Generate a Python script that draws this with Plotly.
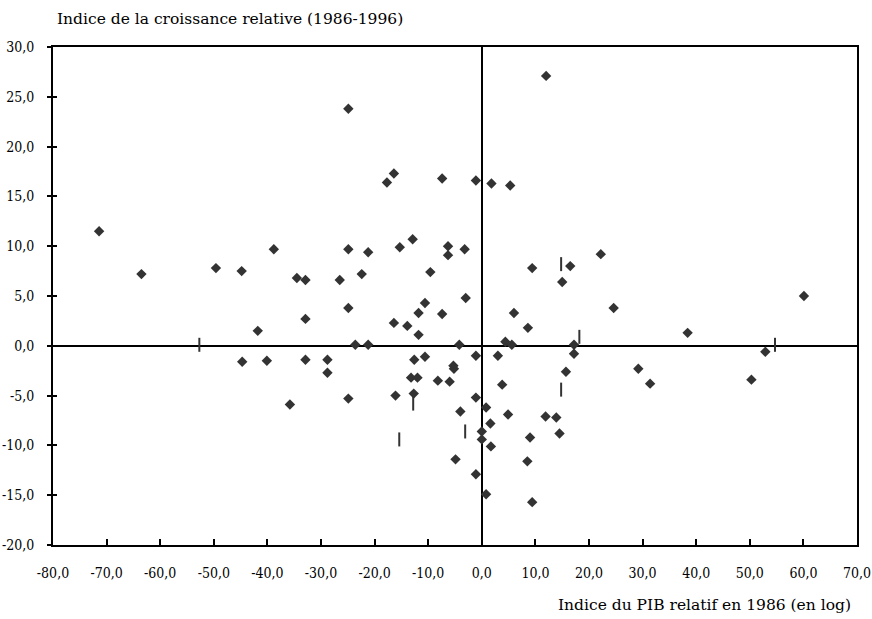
import plotly.graph_objects as go

# Diamond-marked observations (x = Indice du PIB relatif 1986, y = croissance relative)
diam_x = [-71.4, -63.5, -49.6, -44.8, -38.8, -34.5, -32.9, -41.8, -32.9, -24.9,
          -24.9, -26.5, -22.4, -21.2, -24.9, -23.6, -21.2, -17.7, -16.4, -7.4,
          -15.3, -12.9, -9.6, -6.3, -6.3, -3.2, -3.0, -10.6, -11.8, -7.4,
          -16.4, -13.9, -11.8, -4.2, -1.1, 1.8, 5.3, 12.0, 9.4, 16.5,
          15.0, 22.2, 24.6, 6.0, 8.6, 38.4, 60.1, 17.2, 4.4, 5.6,
          -44.7, -40.1, -32.9, -28.8, -28.8, -35.8, -24.9, -16.1, -12.6, -10.6,
          -13.2, -12.0, -12.7, -8.2, -6.0, -5.3, -5.2, -4.0, -4.9, 52.9,
          -1.1, 3.0, 17.2, 15.7, 29.2, 31.4, 50.3, 3.8, -1.1, 0.8,
          4.9, 1.6, 11.9, 13.9, 14.5, 0.0, 0.0, 1.7, 9.0, 8.5,
          -1.1, 0.8, 9.4]
diam_y = [11.5, 7.2, 7.8, 7.5, 9.7, 6.8, 6.6, 1.5, 2.7, 23.8,
          9.7, 6.6, 7.2, 9.4, 3.8, 0.1, 0.1, 16.4, 17.3, 16.8,
          9.9, 10.7, 7.4, 10.0, 9.1, 9.7, 4.8, 4.3, 3.3, 3.2,
          2.3, 2.0, 1.1, 0.1, 16.6, 16.3, 16.1, 27.1, 7.8, 8.0,
          6.4, 9.2, 3.8, 3.3, 1.8, 1.3, 5.0, 0.1, 0.4, 0.1,
          -1.6, -1.5, -1.4, -1.4, -2.7, -5.9, -5.3, -5.0, -1.4, -1.1,
          -3.2, -3.2, -4.8, -3.5, -3.6, -2.0, -2.3, -6.6, -11.4, -0.6,
          -1.0, -1.0, -0.8, -2.6, -2.3, -3.8, -3.4, -3.9, -5.2, -6.2,
          -6.9, -7.8, -7.1, -7.2, -8.8, -8.6, -9.4, -10.1, -9.2, -11.6,
          -12.9, -14.9, -15.7]

# Observations drawn with a short vertical bar
bar_x = [-52.7, 14.8, 18.2, 54.7, -15.4, -12.8, -3.1, 14.8]
bar_y = [0.1, 8.2, 0.9, 0.1, -9.4, -5.8, -8.6, -4.4]

x_ticks = [-80, -70, -60, -50, -40, -30, -20, -10, 0, 10, 20, 30, 40, 50, 60, 70]
x_ticklabels = ["-80,0", "-70,0", "-60,0", "-50,0", "-40,0", "-30,0", "-20,0", "-10,0",
                "0,0", "10,0", "20,0", "30,0", "40,0", "50,0", "60,0", "70,0"]
y_ticks = [-20, -15, -10, -5, 0, 5, 10, 15, 20, 25, 30]
y_ticklabels = ["-20,0", "-15,0", "-10,0", "-5,0", "0,0", "5,0", "10,0", "15,0",
                "20,0", "25,0", "30,0"]

y_title = "Indice de la croissance relative (1986-1996)"
x_title = "Indice du PIB relatif en 1986 (en log)"

MARK = "#333333"
tick_font = dict(family="DejaVu Serif Condensed, Liberation Serif, serif", size=14, color="black")
title_font = dict(family="DejaVu Serif, Liberation Serif, serif", size=15.5, color="black")

fig = go.Figure()
fig.add_trace(go.Scatter(x=diam_x, y=diam_y, mode="markers",
                         marker=dict(symbol="diamond", size=8, color=MARK,
                                     line=dict(width=0)),
                         showlegend=False, hoverinfo="x+y"))
fig.add_trace(go.Scatter(x=bar_x, y=bar_y, mode="markers",
                         marker=dict(symbol="line-ns", size=10,
                                     line=dict(width=2, color=MARK)),
                         showlegend=False, hoverinfo="x+y"))
# invisible trace to anchor the overlay axis (inside half of the crossing ticks)
fig.add_trace(go.Scatter(x=[-80], y=[-20], yaxis="y2", mode="markers",
                         marker=dict(size=1, opacity=0), showlegend=False,
                         hoverinfo="skip"))

fig.update_layout(
    width=872, height=619,
    margin=dict(l=53, r=15, t=47, b=74),
    paper_bgcolor="white", plot_bgcolor="white",
    xaxis=dict(range=[-80, 70], tickvals=x_ticks, ticktext=x_ticklabels,
               showgrid=False, zeroline=True, zerolinecolor="black", zerolinewidth=2,
               showline=True, linecolor="black", linewidth=2, mirror=True,
               ticks="inside", ticklen=6, tickwidth=2, tickcolor="black",
               tickfont=tick_font, ticklabelstandoff=14, automargin=False),
    yaxis=dict(range=[-20, 30], tickvals=y_ticks, ticktext=y_ticklabels,
               showgrid=False, zeroline=True, zerolinecolor="black", zerolinewidth=2,
               showline=True, linecolor="black", linewidth=2, mirror=True,
               ticks="outside", ticklen=4, tickwidth=2, tickcolor="black",
               tickfont=tick_font, ticklabelstandoff=10, automargin=False),
    yaxis2=dict(range=[-20, 30], tickvals=y_ticks, overlaying="y", side="left",
                showgrid=False, zeroline=False, showline=False,
                ticks="inside", ticklen=4, tickwidth=2, tickcolor="black",
                showticklabels=False, automargin=False),
    annotations=[
        dict(text=y_title, xref="paper", yref="paper", x=0, y=1,
             xanchor="left", yanchor="middle", xshift=2, yshift=28,
             showarrow=False, font=title_font),
        dict(text=x_title, xref="paper", yref="paper", x=1, y=0,
             xanchor="right", yanchor="middle", xshift=-4, yshift=-60,
             showarrow=False, font=title_font),
    ],
)

fig.write_html("out.html")
